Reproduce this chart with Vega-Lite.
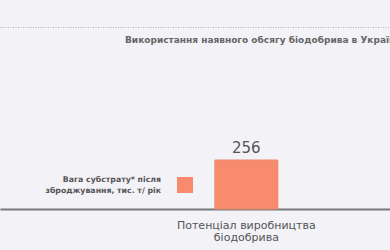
{
  "$schema": "https://vega.github.io/schema/vega-lite/v6.json",
  "width": 390,
  "height": 209,
  "padding": {"top": 0, "left": 0, "right": 0, "bottom": 41},
  "autosize": "none",
  "background": "#f2f2f7",
  "config": {"view": {"stroke": null}, "font": "DejaVu Sans"},
  "title": {
    "text": "Використання наявного обсягу біодобрива в Україні",
    "anchor": "start",
    "frame": "group",
    "dx": 125,
    "offset": -45,
    "fontSize": 9,
    "fontWeight": "bold",
    "color": "#666666"
  },
  "data": {"values": [
    {"category": "Потенціал виробництва біодобрива", "series": "Вага субстрату* після зброджування, тис. т/ рік", "value": 256}
  ]},
  "layer": [
    {
      "mark": {"type": "bar", "stroke": "#e88a70", "strokeWidth": 1},
      "encoding": {
        "x": {
          "field": "category",
          "type": "nominal",
          "scale": {"paddingInner": 0.615, "paddingOuter": 1, "align": 0.657},
          "axis": {
            "title": null,
            "labelAngle": 0,
            "ticks": false,
            "domainColor": "#7a7a7a",
            "domainWidth": 2,
            "labelPadding": 10,
            "labelFontSize": 11,
            "labelColor": "#555555",
            "labelLineHeight": 12.5,
            "labelLimit": 300,
            "labelExpr": "['Потенціал виробництва', 'біодобрива']"
          }
        },
        "y": {
          "field": "value",
          "type": "quantitative",
          "scale": {"domain": [0, 1092], "nice": false, "zero": true},
          "axis": {
            "values": [951],
            "grid": true,
            "gridDash": [1, 1.5],
            "gridColor": "#b0b0b8",
            "gridOpacity": 1,
            "labels": false,
            "ticks": false,
            "domain": false,
            "title": null
          }
        },
        "fill": {
          "field": "series",
          "type": "nominal",
          "scale": {"range": ["#f88b6d"]},
          "legend": {
            "orient": "none",
            "legendX": 45,
            "legendY": 177,
            "title": ["Вага субстрату* після", "зброджування, тис. т/ рік"],
            "titleOrient": "left",
            "titleAlign": "right",
            "titleLimit": 150,
            "titleFontSize": 7.8,
            "titleFontWeight": "bold",
            "titleColor": "#555555",
            "titleLineHeight": 11,
            "titlePadding": -100,
            "labelExpr": "''",
            "symbolType": "square",
            "symbolSize": 256,
            "symbolStrokeWidth": 0
          }
        }
      }
    },
    {
      "mark": {"type": "text", "baseline": "bottom", "dy": -4, "fontSize": 15, "color": "#555555"},
      "encoding": {
        "x": {"field": "category", "type": "nominal"},
        "y": {"field": "value", "type": "quantitative"},
        "text": {"field": "value", "type": "quantitative"}
      }
    }
  ]
}
